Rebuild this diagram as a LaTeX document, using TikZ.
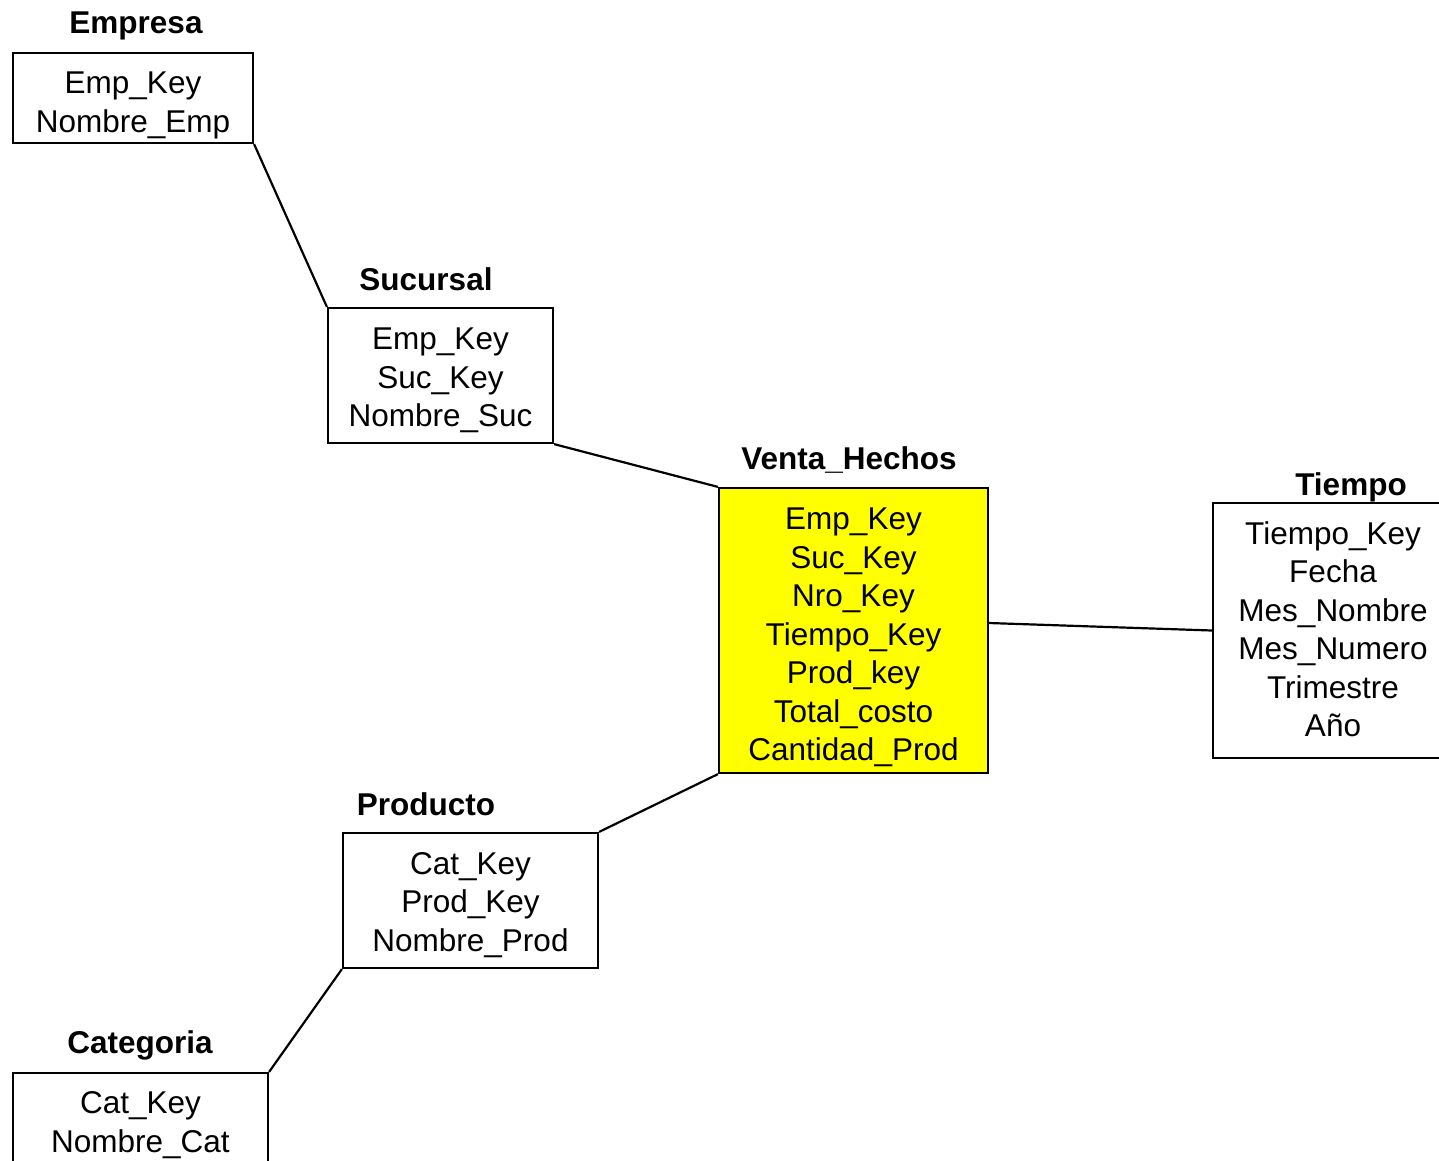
\documentclass[tikz,border=0pt]{standalone}
\usepackage{fontspec}
\setmainfont{Liberation Sans}
\definecolor{factyellow}{HTML}{FFFF00}
\newcommand{\tabtext}[2]{\raisebox{-#1}[\height][\depth]{\begin{tabular}{@{}c@{}}#2\end{tabular}}}
\begin{document}
\begin{tikzpicture}[x=1pt,y=-1pt,
  tbl/.style={draw=black,line width=2.2pt,inner sep=0pt,align=center,
    font=\fontsize{31.5}{38.5}\selectfont},
  ttl/.style={inner sep=0pt,font=\fontsize{31.5}{38.5}\selectfont\bfseries},
  link/.style={draw=black,line width=2.2pt}]
\useasboundingbox (0,0) rectangle (1439,1160);
% tables
\node[tbl,minimum width=240pt,minimum height=90pt] (emp) at (133,98) {\tabtext{7.5pt}{Emp\_Key\\Nombre\_Emp}};
\node[tbl,minimum width=225pt,minimum height=135pt] (suc) at (440.5,375.5) {\tabtext{5pt}{Emp\_Key\\Suc\_Key\\Nombre\_Suc}};
\node[tbl,fill=factyellow,minimum width=269pt,minimum height=285pt] (venta) at (853.5,630.5) {\tabtext{7pt}{Emp\_Key\\Suc\_Key\\Nro\_Key\\Tiempo\_Key\\Prod\_key\\Total\_costo\\Cantidad\_Prod}};
\node[tbl,minimum width=240pt,minimum height=255pt] (tiempo) at (1333,630.5) {\tabtext{2.5pt}{Tiempo\_Key\\Fecha\\Mes\_Nombre\\Mes\_Numero\\Trimestre\\Año}};
\node[tbl,minimum width=255pt,minimum height=135pt] (prod) at (470.5,900.5) {\tabtext{4.5pt}{Cat\_Key\\Prod\_Key\\Nombre\_Prod}};
\node[tbl,minimum width=255pt,minimum height=90pt] (cat) at (140.5,1118) {\tabtext{7.5pt}{Cat\_Key\\Nombre\_Cat}};
% titles
\node[ttl] (tEmp) at (136,25.5) {Empresa};
\node[ttl] (tSuc) at (426,279) {Sucursal};
\node[ttl] (tVenta) at (849,460) {Venta\_Hechos};
\node[ttl] (tTiempo) at (1351,487.5) {Tiempo};
\node[ttl] (tProd) at (426,804) {Producto};
\node[ttl] (tCat) at (140,1045.5) {Categoria};
% links
\draw[link] (emp.south east) -- (suc.north west);
\draw[link] (suc.south east) -- (venta.north west);
\draw[link] ([yshift=7.5pt]venta.east) -- (tiempo.west);
\draw[link] (venta.south west) -- (prod.north east);
\draw[link] (prod.south west) -- (cat.north east);
\end{tikzpicture}
\end{document}
